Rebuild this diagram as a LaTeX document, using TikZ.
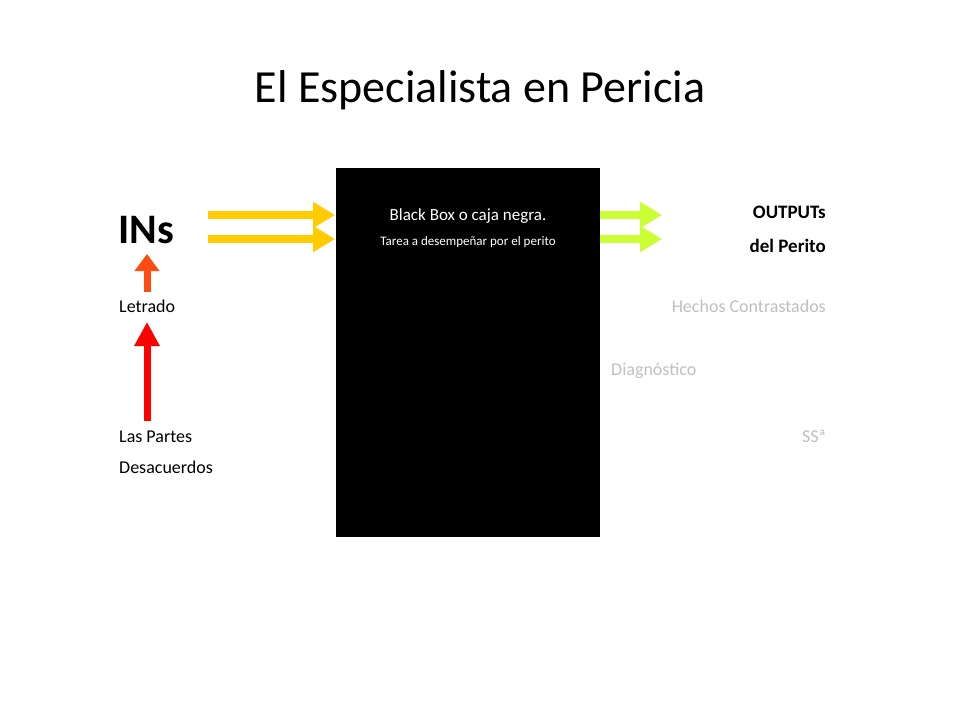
\documentclass[tikz,border=0pt]{standalone}
\usepackage{fontspec}
\setmainfont{Carlito}
\usetikzlibrary{arrows.meta}
\definecolor{yel}{RGB}{255,204,0}
\definecolor{grn}{RGB}{204,255,51}
\definecolor{org}{RGB}{255,76,20}
\definecolor{gry}{RGB}{191,191,191}
\begin{document}
\begin{tikzpicture}[x=1pt,y=-1pt,
  fat/.style={line width=8pt,-{Triangle[length=22pt,width=25pt]}},
  txt/.style={inner sep=0pt,font=\fontsize{18}{20}\selectfont}]
\useasboundingbox (0,0) rectangle (960,720);
\node[font=\fontsize{46}{50}\selectfont] (title) at (480,90) {El Especialista en Pericia};
\fill[black] (336,168) rectangle (600,537);
\node[txt,white,font=\fontsize{17}{20}\selectfont] (bb) at (468,216) {Black Box o caja negra.};
\node[txt,white,font=\fontsize{13}{15}\selectfont] (tarea) at (468,242) {Tarea a desempeñar por el perito};
\node[txt,anchor=west,font=\bfseries\fontsize{42}{46}\selectfont] (ins) at (118,230) {INs};
\node[txt,anchor=west] (letrado) at (119,306) {Letrado};
\node[txt,anchor=west] (partes) at (119,437) {Las Partes};
\node[txt,anchor=west] (desac) at (119,467) {Desacuerdos};
\node[txt,anchor=east,font=\bfseries\fontsize{19}{22}\selectfont] (out1) at (826,212) {OUTPUTs};
\node[txt,anchor=east,font=\bfseries\fontsize{19}{22}\selectfont] (out2) at (826,246) {del Perito};
\node[txt,anchor=east,gry] (hechos) at (826,306) {Hechos Contrastados};
\node[txt,anchor=west,gry] (diag) at (611,371) {Diagnóstico};
\node[txt,anchor=east,gry] (ss) at (826,436) {SSª};
\coordinate (y1a) at (208,215); \coordinate (y1b) at (335,215);
\coordinate (y2a) at (208,239); \coordinate (y2b) at (335,239);
\coordinate (g1a) at (600,215); \coordinate (g1b) at (662,215);
\coordinate (g2a) at (600,239); \coordinate (g2b) at (662,239);
\draw[fat,yel] (y1a) -- (y1b);
\draw[fat,yel] (y2a) -- (y2b);
\draw[fat,grn] (g1a) -- (g1b);
\draw[fat,grn] (g2a) -- (g2b);
\draw[line width=7pt,org,-{Triangle[length=17pt,width=24pt]}] (147,292) -- (147,254);
\draw[line width=7pt,red,-{Triangle[length=24pt,width=24pt]}] (147,421) -- (147,322);
\end{tikzpicture}
\end{document}
